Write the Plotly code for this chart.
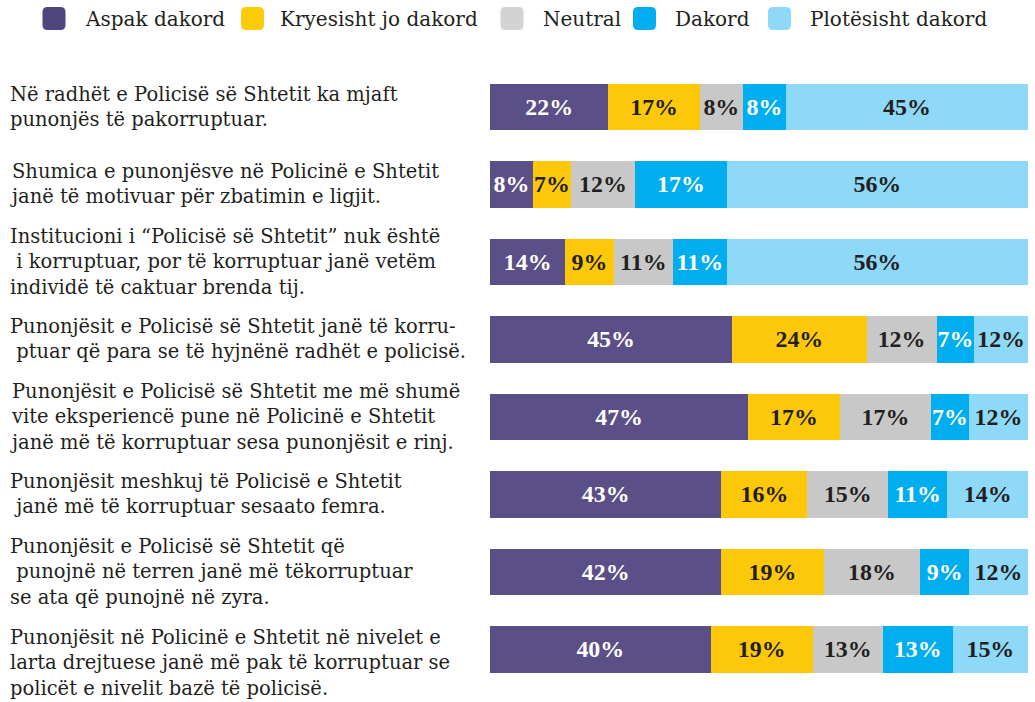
import plotly.graph_objects as go

statements = [
    "Në radhët e Policisë së Shtetit ka mjaft<br>punonjës të pakorruptuar.",
    "Shumica e punonjësve në Policinë e Shtetit<br>janë të motivuar për zbatimin e ligjit.",
    "Institucioni i “Policisë së Shtetit” nuk është<br> i korruptuar, por të korruptuar janë vetëm<br>individë të caktuar brenda tij.",
    "Punonjësit e Policisë së Shtetit janë të korru-<br> ptuar që para se të hyjnënë radhët e policisë.",
    "Punonjësit e Policisë së Shtetit me më shumë<br>vite eksperiencë pune në Policinë e Shtetit<br>janë më të korruptuar sesa punonjësit e rinj.",
    "Punonjësit meshkuj të Policisë e Shtetit<br> janë më të korruptuar sesaato femra.",
    "Punonjësit e Policisë së Shtetit që<br> punojnë në terren janë më tëkorruptuar<br>se ata që punojnë në zyra.",
    "Punonjësit në Policinë e Shtetit në nivelet e<br>larta drejtuese janë më pak të korruptuar se<br>policët e nivelit bazë të policisë.",
]
cats = ["S1", "S2", "S3", "S4", "S5", "S6", "S7", "S8"]

series_names = ["Aspak dakord", "Kryesisht jo dakord", "Neutral", "Dakord", "Plotësisht dakord"]

# bar widths
aspak      = [22, 8, 14, 45, 48, 43, 43, 41]
kryesisht  = [17, 7, 9, 25, 17, 16, 19, 19]
neutral    = [8, 12, 11, 13, 17, 15, 18, 13]
dakord     = [8, 17, 10, 7, 7, 11, 9, 13]
plotesisht = [45, 56, 56, 10, 11, 15, 11, 14]

# printed labels
aspak_lbl      = [22, 8, 14, 45, 47, 43, 42, 40]
kryesisht_lbl  = [17, 7, 9, 24, 17, 16, 19, 19]
neutral_lbl    = [8, 12, 11, 12, 17, 15, 18, 13]
dakord_lbl     = [8, 17, 11, 7, 7, 11, 9, 13]
plotesisht_lbl = [45, 56, 56, 12, 12, 14, 12, 15]

colors = ["#5b4f87", "#fec80a", "#c8c8c8", "#00adef", "#8ed8f8"]
legend_colors = ["#4f4680", "#fecb0a", "#d1d3d4", "#00adef", "#8ed8f8"]
text_colors = ["#ffffff", "#231f20", "#231f20", "#ffffff", "#231f20"]

W, H = 1035, 702
L, R, T, B = 490, 7, 68, 14
PW, PH = W - L - R, H - T - B

def px_x(px):
    return (px - L) / PW

def px_y(py):
    return (H - B - py) / PH

fig = go.Figure()
vals = [aspak, kryesisht, neutral, dakord, plotesisht]
lbls = [aspak_lbl, kryesisht_lbl, neutral_lbl, dakord_lbl, plotesisht_lbl]
for name, v, lb, c, tc in zip(series_names, vals, lbls, colors, text_colors):
    fig.add_trace(go.Bar(
        y=cats, x=v, name=name, orientation="h",
        marker=dict(color=c, line=dict(width=0)),
        text=[f"{t}%" for t in lb], textposition="inside",
        insidetextanchor="middle", textangle=0,
        textfont=dict(family="Liberation Serif", size=24, color=tc, weight="bold"),
        hoverinfo="skip", showlegend=False,
    ))

fig.update_layout(
    barmode="stack", bargap=0.4,
    width=W, height=H,
    margin=dict(l=L, r=R, t=T, b=B),
    plot_bgcolor="white", paper_bgcolor="white",
    uniformtext=dict(minsize=23, mode="show"),
    xaxis=dict(range=[0, 100], visible=False, fixedrange=True),
    yaxis=dict(autorange="reversed", visible=False, fixedrange=True),
)

# left statement labels
for i, (c, s) in enumerate(zip(cats, statements)):
    fig.add_annotation(
        x=px_x(8), xref="paper", y=c, yref="y",
        xanchor="left", yanchor="middle", align="left",
        text=s, showarrow=False,
        yshift=-14 if i == len(cats) - 1 else 0,
        font=dict(family="DejaVu Serif", size=19.5, color="#231f20"),
    )

# custom legend
sq_cx = [54, 252.5, 512, 644.5, 779.5]
txt_x = [83, 278, 541, 673, 808]
ly = 18.5
h, r = 11.5, 5
path = (f"M {-h+r},{-h} L {h-r},{-h} Q {h},{-h} {h},{-h+r} L {h},{h-r} Q {h},{h} {h-r},{h} "
        f"L {-h+r},{h} Q {-h},{h} {-h},{h-r} L {-h},{-h+r} Q {-h},{-h} {-h+r},{-h} Z")
for name, col, cx, tx in zip(series_names, legend_colors, sq_cx, txt_x):
    fig.add_shape(type="path", path=path, xref="paper", yref="paper",
                  xsizemode="pixel", ysizemode="pixel",
                  xanchor=px_x(cx), yanchor=px_y(ly),
                  fillcolor=col, line=dict(width=0))
    fig.add_annotation(x=px_x(tx), y=px_y(ly), xref="paper", yref="paper",
                       xanchor="left", yanchor="middle", text=name, showarrow=False,
                       font=dict(family="DejaVu Serif", size=20, color="#231f20"))

fig.write_html("out.html", config={"displayModeBar": False},
               post_script="document.body.style.margin='0';")
